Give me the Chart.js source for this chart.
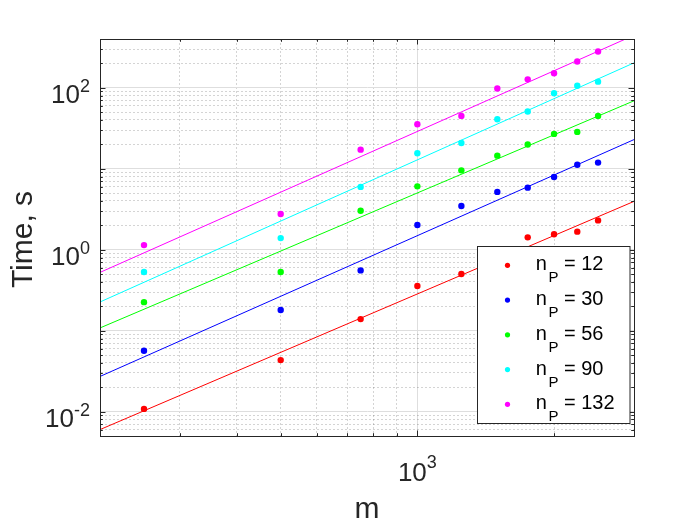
<!DOCTYPE html>
<html>
<head>
<meta charset="utf-8">
<script src="https://cdn.jsdelivr.net/npm/chart.js@4/dist/chart.umd.min.js"></script>
<style>
  html, body { margin: 0; padding: 0; background: #fff; }
  #wrap { width: 700px; height: 525px; position: relative; }
</style>
</head>
<body>
<div id="wrap"><canvas id="chart"></canvas></div>
<script>
// problem size m and measured run times (s) for each n_P
const mValues = [250, 500, 750, 1000, 1250, 1500, 1750, 2000, 2250, 2500];
const timeNp12 = [0.0108, 0.0433, 0.139, 0.356, 0.50, 0.8, 1.42, 1.55, 1.67, 2.30];
const timeNp30 = [0.0565, 0.18, 0.555, 2.02, 3.47, 5.17, 5.84, 7.9, 11.2, 11.9];
const timeNp56 = [0.225, 0.53, 3.03, 6.06, 9.55, 14.5, 19.9, 26.9, 28.5, 44.9];
const timeNp90 = [0.53, 1.39, 5.96, 15.5, 20.8, 40.8, 51, 85.5, 106, 119];
const timeNp132 = [1.14, 2.76, 17.2, 35.4, 44.9, 97.8, 127, 151, 211, 280];

// fitted power-law lines, evaluated at the ends of the x range
const fitM = [200, 3000];
const fitNp12 = [0.006, 3.95];
const fitNp30 = [0.0272, 22.9];
const fitNp56 = [0.108, 69];
const fitNp90 = [0.226, 203];
const fitNp132 = [0.524, 445];

const seriesLabels = ["12", "30", "56", "90", "132"];
const seriesColors = ["#ff0000", "#0000ff", "#00ff00", "#00ffff", "#ff00ff"];

// axis ticks (labels drawn as 10^exp)
const xTickValues = [1000];
const xTickExps = ["3"];
const yTickValues = [0.01, 1, 100];
const yTickExps = ["-2", "0", "2"];

const FONT = "'Liberation Sans', Arial, Helvetica, sans-serif";
const AXIS_COLOR = "#262626";

const pointSets = [timeNp12, timeNp30, timeNp56, timeNp90, timeNp132];
const fitSets = [fitNp12, fitNp30, fitNp56, fitNp90, fitNp132];

const datasets = [];
pointSets.forEach((vals, i) => {
  datasets.push({
    type: "scatter",
    label: "n_P = " + seriesLabels[i],
    data: mValues.map((m, j) => ({ x: m, y: vals[j] })),
    backgroundColor: seriesColors[i],
    borderWidth: 0,
    pointRadius: 3.2,
    order: 1
  });
});
fitSets.forEach((vals, i) => {
  datasets.push({
    type: "line",
    label: "fit " + seriesLabels[i],
    data: fitM.map((m, j) => ({ x: m, y: vals[j] })),
    borderColor: seriesColors[i],
    borderWidth: 1,
    pointRadius: 0,
    fill: false,
    order: 2
  });
});

function isDecade(v) {
  const e = Math.log10(v);
  return Math.abs(e - Math.round(e)) < 1e-9;
}

function logGrid(min, max) {
  let out = [];
  for (let e = Math.floor(Math.log10(min)); e <= Math.ceil(Math.log10(max)); e++) {
    for (let k = 1; k <= 9; k++) {
      const v = parseFloat((k * Math.pow(10, e)).toPrecision(6));
      if (v >= min - 1e-12 && v <= max + 1e-12) out.push(v);
    }
  }
  return out;
}

function gridScale(min, max) {
  return {
    type: "logarithmic",
    min: min,
    max: max,
    afterBuildTicks: (axis) => {
      axis.ticks = logGrid(min, max).map(v => ({ value: v, major: isDecade(v) }));
    },
    ticks: { display: false },
    grid: {
      drawTicks: false,
      lineWidth: 1,
      color: (ctx) => (ctx.tick && isDecade(ctx.tick.value)) ? "#dedede" : "rgba(38,38,38,0.2)"
    },
    border: {
      display: true,
      color: AXIS_COLOR,
      width: 1,
      dash: (ctx) => (ctx.tick && !isDecade(ctx.tick.value)) ? [2, 2] : []
    }
  };
}

function drawPow(ctx, baseX, y, exp, align) {
  ctx.font = "26px " + FONT;
  const wBase = ctx.measureText("10").width;
  ctx.font = "18px " + FONT;
  const wExp = ctx.measureText(exp).width;
  let x0;
  if (align === "right") x0 = baseX - wBase - wExp;
  else x0 = baseX - (wBase + wExp) / 2;
  ctx.textAlign = "left";
  ctx.textBaseline = "alphabetic";
  ctx.font = "26px " + FONT;
  ctx.fillText("10", x0, y.base);
  ctx.font = "18px " + FONT;
  ctx.fillText(exp, x0 + wBase, y.exp);
}

const matlabAxes = {
  id: "matlabAxes",
  afterDraw(chart) {
    const ctx = chart.ctx;
    const area = chart.chartArea;
    const xs = chart.scales.x;
    const ys = chart.scales.y;
    ctx.save();

    // inward tick marks on all four sides
    ctx.strokeStyle = AXIS_COLOR;
    ctx.lineWidth = 1;
    ctx.beginPath();
    ys.ticks.forEach(t => {
      const len = isDecade(t.value) ? 5.5 : 2.8;
      const py = Math.round(ys.getPixelForValue(t.value)) + 0.5;
      ctx.moveTo(area.left, py); ctx.lineTo(area.left + len, py);
      ctx.moveTo(area.right, py); ctx.lineTo(area.right - len, py);
    });
    xs.ticks.forEach(t => {
      const len = isDecade(t.value) ? 5.5 : 2.8;
      const px = Math.round(xs.getPixelForValue(t.value)) + 0.5;
      ctx.moveTo(px, area.bottom); ctx.lineTo(px, area.bottom - len);
      ctx.moveTo(px, area.top); ctx.lineTo(px, area.top + len);
    });
    ctx.stroke();

    // box
    ctx.strokeRect(Math.round(area.left) + 0.5, Math.round(area.top) + 0.5,
      Math.round(area.right - area.left), Math.round(area.bottom - area.top));

    // tick labels
    ctx.fillStyle = AXIS_COLOR;
    yTickValues.forEach((v, i) => {
      const py = ys.getPixelForValue(v);
      drawPow(ctx, area.left - 10, { base: py + 15.5, exp: py + 4 }, yTickExps[i], "right");
    });
    xTickValues.forEach((v, i) => {
      const px = xs.getPixelForValue(v);
      drawPow(ctx, px, { base: 481, exp: 468 }, xTickExps[i], "center");
    });

    // axis titles
    ctx.font = "30px " + FONT;
    ctx.textAlign = "center";
    ctx.textBaseline = "alphabetic";
    ctx.fillText("m", (area.left + area.right) / 2, 518);
    ctx.save();
    ctx.translate(31.5, (area.top + area.bottom) / 2 + 2);
    ctx.rotate(-Math.PI / 2);
    ctx.fillText("Time, s", 0, 0);
    ctx.restore();

    // legend
    const lx = 477.5, ly = 246.5, lw = 152.5, lh = 177;
    ctx.fillStyle = "#ffffff";
    ctx.fillRect(lx, ly, lw, lh);
    ctx.strokeStyle = AXIS_COLOR;
    ctx.strokeRect(lx, ly, lw, lh);
    seriesLabels.forEach((lab, i) => {
      const cy = 265.3 + i * 34.75;
      ctx.fillStyle = seriesColors[i];
      ctx.beginPath();
      ctx.arc(507.5, cy, 2.6, 0, Math.PI * 2);
      ctx.fill();
      ctx.fillStyle = "#000000";
      ctx.textAlign = "left";
      ctx.font = "20px " + FONT;
      let tx = 535.8;
      ctx.fillText("n", tx, cy + 5);
      tx += ctx.measureText("n").width + 1.5;
      ctx.font = "15px " + FONT;
      ctx.fillText("P", tx, cy + 17);
      tx += ctx.measureText("P").width;
      ctx.font = "20px " + FONT;
      ctx.fillText(" = " + lab, tx, cy + 5);
    });

    ctx.restore();
  }
};

new Chart(document.getElementById("chart"), {
  data: { datasets: datasets },
  options: {
    responsive: true,
    maintainAspectRatio: false,
    animation: false,
    layout: { padding: { left: 100, right: 66, top: 39, bottom: 89 } },
    scales: {
      x: gridScale(200, 3000),
      y: gridScale(0.005, 400)
    },
    plugins: {
      legend: { display: false },
      tooltip: { enabled: false }
    }
  },
  plugins: [matlabAxes]
});
</script>
</body>
</html>
